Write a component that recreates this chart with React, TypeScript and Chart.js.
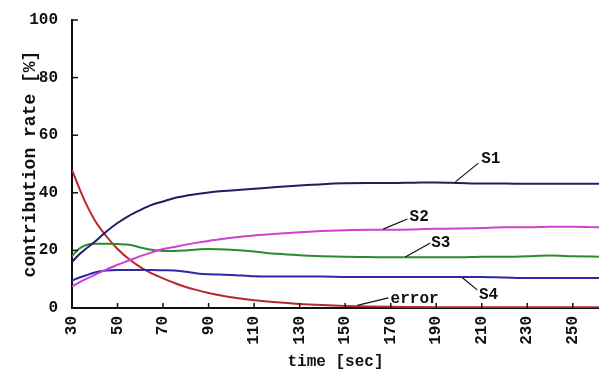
import React, { useEffect, useRef } from "react";
import { Chart, registerables } from "chart.js";

Chart.register(...registerables);

const times = [30, 33, 36, 40, 45, 50, 55, 60, 65, 70, 75, 80, 85, 90, 95, 100, 110, 120, 130, 140, 150, 160, 170, 180, 190, 200, 210, 220, 230, 240, 250, 262];

const s1 = [16, 18.5, 20.5, 23, 26.5, 29.5, 32, 34, 35.8, 37, 38.2, 39, 39.6, 40.1, 40.5, 40.8, 41.4, 42, 42.5, 43, 43.3, 43.4, 43.4, 43.5, 43.6, 43.4, 43.2, 43.2, 43.1, 43.1, 43.1, 43.1];
const s2 = [7.5, 8.8, 10, 11.5, 13.3, 15, 16.5, 18, 19.3, 20.5, 21.2, 22, 22.7, 23.3, 23.9, 24.4, 25.2, 25.8, 26.3, 26.7, 27, 27.2, 27.2, 27.3, 27.5, 27.6, 27.8, 28, 28, 28.2, 28.2, 28];
const s3 = [18, 20.5, 21.8, 22.3, 22.3, 22.2, 22, 21, 20.2, 19.8, 19.8, 20, 20.3, 20.5, 20.4, 20.2, 19.6, 18.8, 18.3, 18, 17.8, 17.7, 17.6, 17.6, 17.6, 17.6, 17.8, 17.8, 18, 18.2, 18, 17.8];
const s4 = [9.5, 10.5, 11.3, 12.3, 13, 13.2, 13.2, 13.2, 13.2, 13.1, 13, 12.6, 12, 11.7, 11.6, 11.5, 11, 10.9, 10.9, 10.9, 10.8, 10.8, 10.8, 10.8, 10.8, 10.8, 10.8, 10.6, 10.4, 10.4, 10.4, 10.4];
const errorSeries = [48, 42, 36.5, 30.5, 25, 20.5, 17, 14.2, 12, 10.3, 8.7, 7.3, 6.2, 5.2, 4.4, 3.7, 2.7, 2, 1.4, 1, 0.7, 0.5, 0.4, 0.35, 0.3, 0.3, 0.3, 0.3, 0.3, 0.3, 0.3, 0.3];

const xTicks = [30, 50, 70, 90, 110, 130, 150, 170, 190, 210, 230, 250];
const yTicks = [0, 20, 40, 60, 80, 100];

const seriesNames = ["S1", "S2", "S3", "S4", "error"];
const seriesValues = [s1, s2, s3, s4, errorSeries];
const seriesColors = ["#1e1e62", "#d040d0", "#2e8a2e", "#2a2aa6", "#b82828"];

// callout labels, in data coordinates
const callouts = [
  { text: "S1", t: 214, v: 51.7, t1: 208.5, v1: 50.3, t2: 198.4, v2: 43.8 },
  { text: "S2", t: 182.5, v: 31.6, t1: 177.3, v1: 30.9, t2: 166.7, v2: 27.4 },
  { text: "S3", t: 192, v: 22.6, t1: 187.4, v1: 22.6, t2: 176.4, v2: 17.7 },
  { text: "S4", t: 213, v: 4.5, t1: 208, v1: 6.3, t2: 201.4, v2: 10.6 },
  { text: "error", t: 180.5, v: 3.1, t1: 169, v1: 3.5, t2: 155.3, v2: 0.9 },
];

const FONT = "'Liberation Mono', 'DejaVu Sans Mono', monospace";

const decorPlugin = {
  id: "decor",
  beforeDraw(chart: any) {
    const { ctx } = chart;
    ctx.save();
    ctx.fillStyle = "#ffffff";
    ctx.fillRect(0, 0, chart.width, chart.height);
    ctx.restore();
  },
  afterDraw(chart: any) {
    const { ctx, chartArea } = chart;
    const xs = chart.scales.x;
    const ys = chart.scales.y;
    ctx.save();
    ctx.strokeStyle = "#111";
    ctx.lineWidth = 1.5;
    xTicks.forEach((t) => {
      const px = xs.getPixelForValue(t);
      ctx.beginPath();
      ctx.moveTo(px, chartArea.bottom);
      ctx.lineTo(px, chartArea.bottom - 5);
      ctx.stroke();
    });
    yTicks.forEach((v) => {
      const py = ys.getPixelForValue(v);
      ctx.beginPath();
      ctx.moveTo(chartArea.left, py);
      ctx.lineTo(chartArea.left + 6, py);
      ctx.stroke();
    });
    ctx.lineWidth = 1.2;
    ctx.fillStyle = "#111";
    ctx.font = `bold 16px ${FONT}`;
    ctx.textAlign = "center";
    ctx.textBaseline = "middle";
    callouts.forEach((c) => {
      ctx.beginPath();
      ctx.moveTo(xs.getPixelForValue(c.t1), ys.getPixelForValue(c.v1));
      ctx.lineTo(xs.getPixelForValue(c.t2), ys.getPixelForValue(c.v2));
      ctx.stroke();
      ctx.fillText(c.text, xs.getPixelForValue(c.t), ys.getPixelForValue(c.v));
    });
    ctx.restore();
  },
};

export default function App() {
  const ref = useRef<HTMLCanvasElement | null>(null);
  useEffect(() => {
    if (!ref.current) return;
    const chart = new Chart(ref.current, {
      type: "line",
      data: {
        datasets: seriesNames.map((name, i) => ({
          label: name,
          data: times.map((t, j) => ({ x: t, y: seriesValues[i][j] })),
          borderColor: seriesColors[i],
          backgroundColor: seriesColors[i],
          borderWidth: 2,
          pointRadius: 0,
          cubicInterpolationMode: "monotone",
          fill: false,
        })),
      },
      options: {
        animation: false,
        responsive: false,
        devicePixelRatio: 1,
        layout: { padding: { top: 20, right: 0, left: 0, bottom: 0 } },
        plugins: { legend: { display: false }, tooltip: { enabled: false } },
        scales: {
          x: {
            type: "linear",
            min: 30,
            max: 261.5,
            afterBuildTicks: (scale: any) => {
              scale.ticks = xTicks.map((v) => ({ value: v }));
            },
            afterFit: (scale: any) => {
              scale.height = 64;
              scale.paddingLeft = 0;
              scale.paddingRight = 0;
            },
            grid: { display: false, drawTicks: false },
            border: { display: true, color: "#111", width: 2 },
            ticks: {
              autoSkip: false,
              minRotation: 90,
              maxRotation: 90,
              padding: 8,
              color: "#111",
              font: { family: FONT, size: 16, weight: "bold" },
              callback: (v: any) => String(v),
            },
            title: {
              display: true,
              text: "time [sec]",
              color: "#111",
              font: { family: FONT, size: 16, lineHeight: 1, weight: "bold" },
              padding: { top: 0, bottom: 2 },
            },
          },
          y: {
            type: "linear",
            min: 0,
            max: 100,
            afterBuildTicks: (scale: any) => {
              scale.ticks = yTicks.map((v) => ({ value: v }));
            },
            afterFit: (scale: any) => {
              scale.width = 72;
              scale.paddingTop = 0;
              scale.paddingBottom = 0;
            },
            grid: { display: false, drawTicks: false },
            border: { display: true, color: "#111", width: 2 },
            ticks: {
              padding: 14,
              color: "#111",
              font: { family: FONT, size: 16, weight: "bold" },
            },
            title: {
              display: true,
              text: "contribution rate [%]",
              color: "#111",
              font: { family: FONT, size: 18, lineHeight: 1, weight: "bold" },
              padding: { top: 21, bottom: 0 },
            },
          },
        },
      },
      plugins: [decorPlugin],
    });
    return () => chart.destroy();
  }, []);
  return (
    <div style={{ position: "absolute", left: 0, top: 0, width: 599, height: 372, background: "#fff" }}>
      <canvas ref={ref} width={599} height={372} style={{ display: "block" }} />
    </div>
  );
}
